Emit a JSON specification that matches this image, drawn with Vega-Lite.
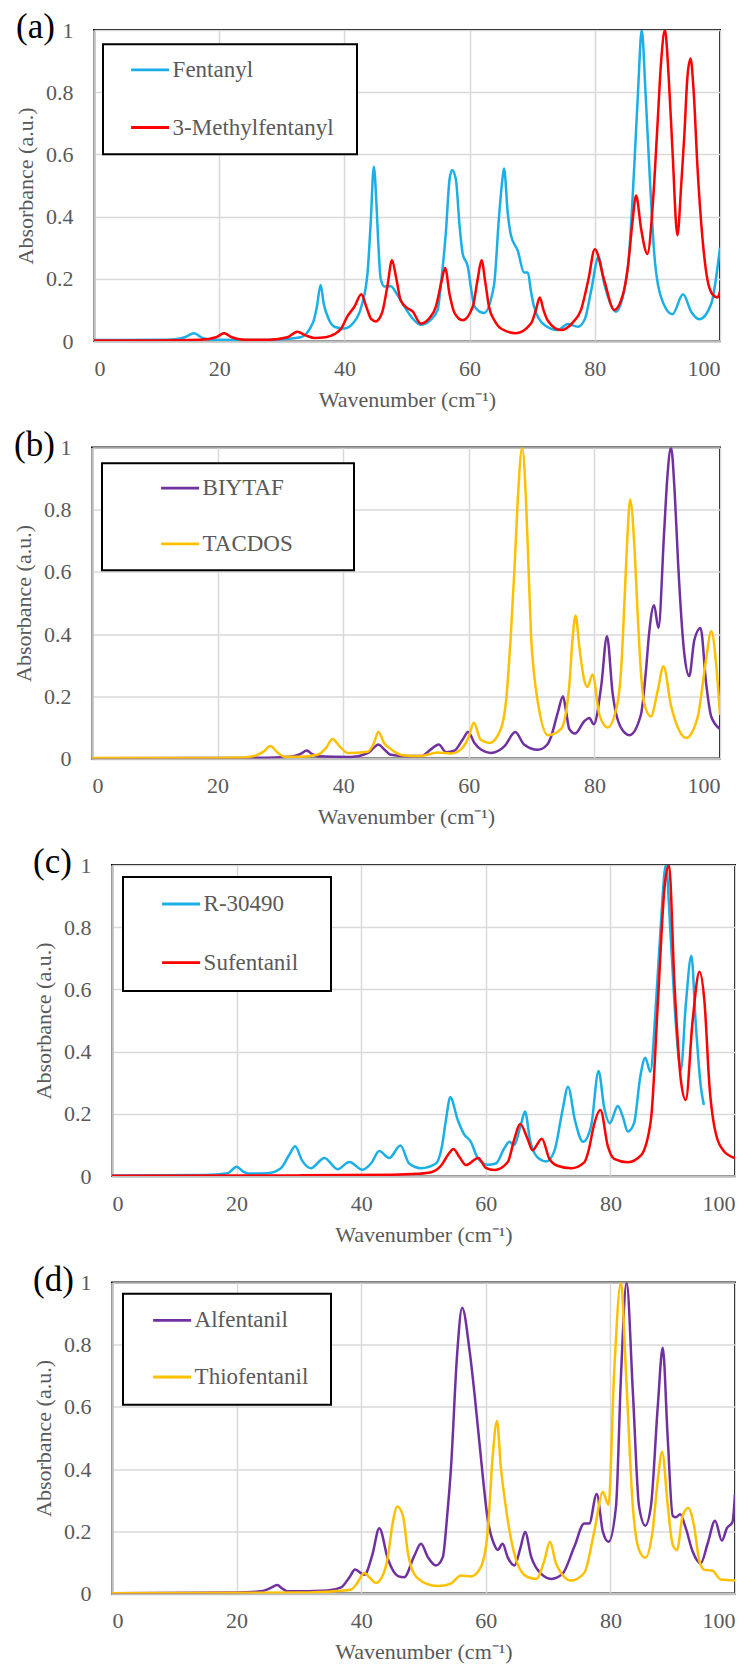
{
  "$schema": "https://vega.github.io/schema/vega-lite/v6.json",
  "background": "white",
  "padding": {"left": 10, "top": 9, "right": 0, "bottom": 0},
  "config": {
    "font": "Liberation Serif",
    "style": {
      "guide-label": {"font": "Liberation Serif"},
      "guide-title": {"font": "Liberation Serif"},
      "group-title": {"font": "Liberation Serif"}
    },
    "view": {"stroke": "#000000", "strokeWidth": 2},
    "axis": {
      "labelFont": "Liberation Serif", "labelFontSize": 22, "labelColor": "#595959",
      "titleFont": "Liberation Serif", "titleFontSize": 22, "titleColor": "#595959", "titleFontWeight": "normal",
      "domainColor": "#BFBFBF", "domainWidth": 2.5, "ticks": false, "tickSize": 0,
      "gridColor": "#D9D9D9", "gridWidth": 1.5
    },
    "axisX": {"labelPadding": 17, "titlePadding": 10},
    "axisY": {"labelPadding": 21, "titlePadding": 8},
    "legend": {
      "orient": "none",
      "labelFont": "Liberation Serif", "labelFontSize": 23, "labelColor": "#595959", "labelLimit": 400,
      "symbolType": "M-1.9,0H1.9", "symbolSize": 400, "symbolStrokeWidth": 2.8,
      "strokeColor": "#000000", "strokeWidth": 2, "fillColor": "#FFFFFF",
      "titleOrient": "right", "titleOpacity": 0, "titleFontSize": 1
    },
    "title": {"font": "Liberation Serif", "fontSize": 35, "color": "#000000", "fontWeight": "normal", "anchor": "start", "frame": "group", "orient": "top", "baseline": "middle", "align": "left", "offset": -10}
  },
  "datasets": {
    "a": [
      {"s":"Fentanyl","x":0,"y":0.003},{"s":"Fentanyl","x":10,"y":0.004},{"s":"Fentanyl","x":13,"y":0.006},{"s":"Fentanyl","x":14.5,"y":0.012},{"s":"Fentanyl","x":16.0,"y":0.025},{"s":"Fentanyl","x":17.3,"y":0.01},{"s":"Fentanyl","x":19,"y":0.004},{"s":"Fentanyl","x":25,"y":0.003},{"s":"Fentanyl","x":30,"y":0.006},{"s":"Fentanyl","x":33,"y":0.012},{"s":"Fentanyl","x":35.0,"y":0.06},{"s":"Fentanyl","x":35.6,"y":0.11},{"s":"Fentanyl","x":36.2,"y":0.18},{"s":"Fentanyl","x":36.7,"y":0.12},{"s":"Fentanyl","x":37.5,"y":0.07},{"s":"Fentanyl","x":38.5,"y":0.045},{"s":"Fentanyl","x":40.0,"y":0.04},{"s":"Fentanyl","x":41.5,"y":0.06},{"s":"Fentanyl","x":42.7,"y":0.11},{"s":"Fentanyl","x":43.7,"y":0.22},{"s":"Fentanyl","x":44.2,"y":0.38},{"s":"Fentanyl","x":44.7,"y":0.56},{"s":"Fentanyl","x":45.1,"y":0.45},{"s":"Fentanyl","x":45.4,"y":0.32},{"s":"Fentanyl","x":45.8,"y":0.2},{"s":"Fentanyl","x":46.4,"y":0.175},{"s":"Fentanyl","x":47.4,"y":0.176},{"s":"Fentanyl","x":48.4,"y":0.15},{"s":"Fentanyl","x":49.6,"y":0.11},{"s":"Fentanyl","x":51.0,"y":0.07},{"s":"Fentanyl","x":52.2,"y":0.052},{"s":"Fentanyl","x":53.6,"y":0.065},{"s":"Fentanyl","x":54.9,"y":0.1},{"s":"Fentanyl","x":55.4,"y":0.18},{"s":"Fentanyl","x":56.2,"y":0.347},{"s":"Fentanyl","x":56.8,"y":0.52},{"s":"Fentanyl","x":57.2,"y":0.55},{"s":"Fentanyl","x":57.8,"y":0.52},{"s":"Fentanyl","x":58.4,"y":0.37},{"s":"Fentanyl","x":58.9,"y":0.28},{"s":"Fentanyl","x":59.7,"y":0.24},{"s":"Fentanyl","x":60.3,"y":0.16},{"s":"Fentanyl","x":60.8,"y":0.11},{"s":"Fentanyl","x":62.3,"y":0.09},{"s":"Fentanyl","x":63.9,"y":0.18},{"s":"Fentanyl","x":64.7,"y":0.40},{"s":"Fentanyl","x":65.3,"y":0.53},{"s":"Fentanyl","x":65.5,"y":0.555},{"s":"Fentanyl","x":66.1,"y":0.41},{"s":"Fentanyl","x":66.6,"y":0.34},{"s":"Fentanyl","x":67.7,"y":0.29},{"s":"Fentanyl","x":68.7,"y":0.22},{"s":"Fentanyl","x":69.3,"y":0.22},{"s":"Fentanyl","x":69.8,"y":0.16},{"s":"Fentanyl","x":70.3,"y":0.11},{"s":"Fentanyl","x":71.9,"y":0.052},{"s":"Fentanyl","x":74.1,"y":0.035},{"s":"Fentanyl","x":75.7,"y":0.055},{"s":"Fentanyl","x":77.3,"y":0.046},{"s":"Fentanyl","x":78.4,"y":0.07},{"s":"Fentanyl","x":79.4,"y":0.16},{"s":"Fentanyl","x":80.6,"y":0.27},{"s":"Fentanyl","x":81.5,"y":0.185},{"s":"Fentanyl","x":83.4,"y":0.094},{"s":"Fentanyl","x":85.3,"y":0.24},{"s":"Fentanyl","x":86.3,"y":0.56},{"s":"Fentanyl","x":86.9,"y":0.8},{"s":"Fentanyl","x":87.5,"y":1.0},{"s":"Fentanyl","x":88.1,"y":0.8},{"s":"Fentanyl","x":88.7,"y":0.56},{"s":"Fentanyl","x":89.5,"y":0.28},{"s":"Fentanyl","x":90.6,"y":0.14},{"s":"Fentanyl","x":92.4,"y":0.086},{"s":"Fentanyl","x":94.1,"y":0.15},{"s":"Fentanyl","x":95.4,"y":0.094},{"s":"Fentanyl","x":96.7,"y":0.07},{"s":"Fentanyl","x":98.6,"y":0.12},{"s":"Fentanyl","x":100,"y":0.30},
      {"s":"3-Methylfentanyl","x":0,"y":0.002},{"s":"3-Methylfentanyl","x":10,"y":0.002},{"s":"3-Methylfentanyl","x":17,"y":0.004},{"s":"3-Methylfentanyl","x":19.5,"y":0.012},{"s":"3-Methylfentanyl","x":20.8,"y":0.025},{"s":"3-Methylfentanyl","x":22.0,"y":0.012},{"s":"3-Methylfentanyl","x":24,"y":0.004},{"s":"3-Methylfentanyl","x":28,"y":0.004},{"s":"3-Methylfentanyl","x":30.9,"y":0.012},{"s":"3-Methylfentanyl","x":32.5,"y":0.03},{"s":"3-Methylfentanyl","x":33.8,"y":0.018},{"s":"3-Methylfentanyl","x":35.2,"y":0.01},{"s":"3-Methylfentanyl","x":37,"y":0.012},{"s":"3-Methylfentanyl","x":38.4,"y":0.022},{"s":"3-Methylfentanyl","x":39.5,"y":0.04},{"s":"3-Methylfentanyl","x":40.5,"y":0.08},{"s":"3-Methylfentanyl","x":41.6,"y":0.11},{"s":"3-Methylfentanyl","x":42.7,"y":0.15},{"s":"3-Methylfentanyl","x":43.5,"y":0.11},{"s":"3-Methylfentanyl","x":44.3,"y":0.07},{"s":"3-Methylfentanyl","x":45.0,"y":0.063},{"s":"3-Methylfentanyl","x":46.0,"y":0.09},{"s":"3-Methylfentanyl","x":46.9,"y":0.18},{"s":"3-Methylfentanyl","x":47.6,"y":0.26},{"s":"3-Methylfentanyl","x":48.3,"y":0.2},{"s":"3-Methylfentanyl","x":49.0,"y":0.13},{"s":"3-Methylfentanyl","x":50.1,"y":0.105},{"s":"3-Methylfentanyl","x":50.9,"y":0.095},{"s":"3-Methylfentanyl","x":52.2,"y":0.056},{"s":"3-Methylfentanyl","x":53.6,"y":0.074},{"s":"3-Methylfentanyl","x":54.6,"y":0.11},{"s":"3-Methylfentanyl","x":55.5,"y":0.19},{"s":"3-Methylfentanyl","x":56.1,"y":0.235},{"s":"3-Methylfentanyl","x":56.8,"y":0.15},{"s":"3-Methylfentanyl","x":57.6,"y":0.09},{"s":"3-Methylfentanyl","x":58.9,"y":0.067},{"s":"3-Methylfentanyl","x":60.5,"y":0.11},{"s":"3-Methylfentanyl","x":61.3,"y":0.2},{"s":"3-Methylfentanyl","x":61.9,"y":0.26},{"s":"3-Methylfentanyl","x":62.5,"y":0.19},{"s":"3-Methylfentanyl","x":63.1,"y":0.11},{"s":"3-Methylfentanyl","x":64.0,"y":0.065},{"s":"3-Methylfentanyl","x":65.0,"y":0.04},{"s":"3-Methylfentanyl","x":67.4,"y":0.025},{"s":"3-Methylfentanyl","x":69.8,"y":0.056},{"s":"3-Methylfentanyl","x":70.6,"y":0.1},{"s":"3-Methylfentanyl","x":71.2,"y":0.14},{"s":"3-Methylfentanyl","x":71.8,"y":0.1},{"s":"3-Methylfentanyl","x":72.5,"y":0.065},{"s":"3-Methylfentanyl","x":74.6,"y":0.035},{"s":"3-Methylfentanyl","x":76.5,"y":0.06},{"s":"3-Methylfentanyl","x":77.8,"y":0.1},{"s":"3-Methylfentanyl","x":79.0,"y":0.2},{"s":"3-Methylfentanyl","x":80.0,"y":0.295},{"s":"3-Methylfentanyl","x":81.5,"y":0.196},{"s":"3-Methylfentanyl","x":83.1,"y":0.10},{"s":"3-Methylfentanyl","x":84.5,"y":0.15},{"s":"3-Methylfentanyl","x":85.3,"y":0.24},{"s":"3-Methylfentanyl","x":86.0,"y":0.38},{"s":"3-Methylfentanyl","x":86.6,"y":0.468},{"s":"3-Methylfentanyl","x":87.4,"y":0.36},{"s":"3-Methylfentanyl","x":88.4,"y":0.28},{"s":"3-Methylfentanyl","x":89.3,"y":0.45},{"s":"3-Methylfentanyl","x":90.0,"y":0.69},{"s":"3-Methylfentanyl","x":90.6,"y":0.9},{"s":"3-Methylfentanyl","x":91.2,"y":1.0},{"s":"3-Methylfentanyl","x":91.8,"y":0.85},{"s":"3-Methylfentanyl","x":92.4,"y":0.616},{"s":"3-Methylfentanyl","x":93.2,"y":0.34},{"s":"3-Methylfentanyl","x":93.8,"y":0.5},{"s":"3-Methylfentanyl","x":94.3,"y":0.66},{"s":"3-Methylfentanyl","x":94.8,"y":0.85},{"s":"3-Methylfentanyl","x":95.3,"y":0.908},{"s":"3-Methylfentanyl","x":95.8,"y":0.8},{"s":"3-Methylfentanyl","x":96.4,"y":0.56},{"s":"3-Methylfentanyl","x":97.2,"y":0.33},{"s":"3-Methylfentanyl","x":98.0,"y":0.196},{"s":"3-Methylfentanyl","x":98.8,"y":0.15},{"s":"3-Methylfentanyl","x":99.6,"y":0.14},{"s":"3-Methylfentanyl","x":100,"y":0.16}
    ],
    "b": [
      {"s":"BIYTAF","x":0,"y":0.001},{"s":"BIYTAF","x":25,"y":0.002},{"s":"BIYTAF","x":30,"y":0.004},{"s":"BIYTAF","x":32.2,"y":0.008},{"s":"BIYTAF","x":33.3,"y":0.016},{"s":"BIYTAF","x":34.2,"y":0.026},{"s":"BIYTAF","x":35.0,"y":0.015},{"s":"BIYTAF","x":35.9,"y":0.007},{"s":"BIYTAF","x":41.2,"y":0.005},{"s":"BIYTAF","x":43.9,"y":0.017},{"s":"BIYTAF","x":44.9,"y":0.035},{"s":"BIYTAF","x":45.6,"y":0.045},{"s":"BIYTAF","x":46.5,"y":0.03},{"s":"BIYTAF","x":47.6,"y":0.012},{"s":"BIYTAF","x":50,"y":0.008},{"s":"BIYTAF","x":52.4,"y":0.008},{"s":"BIYTAF","x":54.0,"y":0.03},{"s":"BIYTAF","x":55.2,"y":0.045},{"s":"BIYTAF","x":56.4,"y":0.02},{"s":"BIYTAF","x":57.7,"y":0.025},{"s":"BIYTAF","x":59.0,"y":0.06},{"s":"BIYTAF","x":59.9,"y":0.085},{"s":"BIYTAF","x":60.9,"y":0.05},{"s":"BIYTAF","x":62.0,"y":0.028},{"s":"BIYTAF","x":63.5,"y":0.018},{"s":"BIYTAF","x":65.7,"y":0.04},{"s":"BIYTAF","x":67.4,"y":0.085},{"s":"BIYTAF","x":68.8,"y":0.045},{"s":"BIYTAF","x":71.0,"y":0.028},{"s":"BIYTAF","x":72.5,"y":0.045},{"s":"BIYTAF","x":73.1,"y":0.07},{"s":"BIYTAF","x":74.2,"y":0.15},{"s":"BIYTAF","x":75.0,"y":0.2},{"s":"BIYTAF","x":75.5,"y":0.15},{"s":"BIYTAF","x":76.0,"y":0.095},{"s":"BIYTAF","x":76.9,"y":0.08},{"s":"BIYTAF","x":78.4,"y":0.12},{"s":"BIYTAF","x":79.2,"y":0.13},{"s":"BIYTAF","x":79.9,"y":0.11},{"s":"BIYTAF","x":81.1,"y":0.235},{"s":"BIYTAF","x":82.0,"y":0.393},{"s":"BIYTAF","x":82.9,"y":0.21},{"s":"BIYTAF","x":84.2,"y":0.10},{"s":"BIYTAF","x":85.6,"y":0.075},{"s":"BIYTAF","x":87.4,"y":0.14},{"s":"BIYTAF","x":88.2,"y":0.28},{"s":"BIYTAF","x":88.7,"y":0.40},{"s":"BIYTAF","x":89.5,"y":0.493},{"s":"BIYTAF","x":90.2,"y":0.42},{"s":"BIYTAF","x":91.1,"y":0.727},{"s":"BIYTAF","x":91.6,"y":0.9},{"s":"BIYTAF","x":92.2,"y":1.0},{"s":"BIYTAF","x":92.8,"y":0.85},{"s":"BIYTAF","x":93.3,"y":0.64},{"s":"BIYTAF","x":94.3,"y":0.34},{"s":"BIYTAF","x":95.1,"y":0.265},{"s":"BIYTAF","x":95.9,"y":0.38},{"s":"BIYTAF","x":96.9,"y":0.42},{"s":"BIYTAF","x":97.8,"y":0.24},{"s":"BIYTAF","x":98.6,"y":0.135},{"s":"BIYTAF","x":100,"y":0.095},
      {"s":"TACDOS","x":0,"y":0.002},{"s":"TACDOS","x":20,"y":0.002},{"s":"TACDOS","x":24,"y":0.003},{"s":"TACDOS","x":25.8,"y":0.008},{"s":"TACDOS","x":27.3,"y":0.022},{"s":"TACDOS","x":28.4,"y":0.04},{"s":"TACDOS","x":29.5,"y":0.02},{"s":"TACDOS","x":30.6,"y":0.006},{"s":"TACDOS","x":33,"y":0.006},{"s":"TACDOS","x":35.9,"y":0.012},{"s":"TACDOS","x":37.3,"y":0.035},{"s":"TACDOS","x":38.3,"y":0.063},{"s":"TACDOS","x":39.4,"y":0.04},{"s":"TACDOS","x":40.7,"y":0.018},{"s":"TACDOS","x":43.9,"y":0.022},{"s":"TACDOS","x":44.9,"y":0.05},{"s":"TACDOS","x":45.6,"y":0.086},{"s":"TACDOS","x":46.5,"y":0.05},{"s":"TACDOS","x":47.6,"y":0.03},{"s":"TACDOS","x":49.7,"y":0.01},{"s":"TACDOS","x":52.4,"y":0.008},{"s":"TACDOS","x":55.0,"y":0.019},{"s":"TACDOS","x":57.2,"y":0.016},{"s":"TACDOS","x":58.8,"y":0.03},{"s":"TACDOS","x":60.0,"y":0.07},{"s":"TACDOS","x":60.8,"y":0.115},{"s":"TACDOS","x":61.9,"y":0.06},{"s":"TACDOS","x":63.3,"y":0.05},{"s":"TACDOS","x":65.1,"y":0.095},{"s":"TACDOS","x":66.0,"y":0.2},{"s":"TACDOS","x":66.7,"y":0.40},{"s":"TACDOS","x":67.3,"y":0.62},{"s":"TACDOS","x":67.8,"y":0.833},{"s":"TACDOS","x":68.5,"y":1.0},{"s":"TACDOS","x":69.1,"y":0.833},{"s":"TACDOS","x":69.5,"y":0.62},{"s":"TACDOS","x":69.9,"y":0.40},{"s":"TACDOS","x":70.4,"y":0.27},{"s":"TACDOS","x":71.0,"y":0.18},{"s":"TACDOS","x":72.6,"y":0.075},{"s":"TACDOS","x":74.7,"y":0.095},{"s":"TACDOS","x":76.0,"y":0.235},{"s":"TACDOS","x":76.5,"y":0.38},{"s":"TACDOS","x":77.0,"y":0.46},{"s":"TACDOS","x":77.6,"y":0.36},{"s":"TACDOS","x":78.4,"y":0.25},{"s":"TACDOS","x":78.9,"y":0.23},{"s":"TACDOS","x":79.7,"y":0.27},{"s":"TACDOS","x":80.8,"y":0.14},{"s":"TACDOS","x":82.1,"y":0.10},{"s":"TACDOS","x":83.7,"y":0.18},{"s":"TACDOS","x":84.3,"y":0.3},{"s":"TACDOS","x":84.8,"y":0.51},{"s":"TACDOS","x":85.3,"y":0.73},{"s":"TACDOS","x":85.7,"y":0.833},{"s":"TACDOS","x":86.4,"y":0.67},{"s":"TACDOS","x":86.9,"y":0.46},{"s":"TACDOS","x":87.4,"y":0.28},{"s":"TACDOS","x":87.9,"y":0.18},{"s":"TACDOS","x":89.0,"y":0.135},{"s":"TACDOS","x":90.1,"y":0.22},{"s":"TACDOS","x":91.0,"y":0.297},{"s":"TACDOS","x":92.2,"y":0.17},{"s":"TACDOS","x":93.5,"y":0.09},{"s":"TACDOS","x":94.6,"y":0.066},{"s":"TACDOS","x":96.4,"y":0.13},{"s":"TACDOS","x":97.8,"y":0.32},{"s":"TACDOS","x":98.6,"y":0.41},{"s":"TACDOS","x":99.4,"y":0.30},{"s":"TACDOS","x":100,"y":0.14}
    ],
    "c": [
      {"s":"R-30490","x":0,"y":0.002},{"s":"R-30490","x":15,"y":0.003},{"s":"R-30490","x":18.6,"y":0.009},{"s":"R-30490","x":20.0,"y":0.03},{"s":"R-30490","x":21.0,"y":0.015},{"s":"R-30490","x":21.8,"y":0.008},{"s":"R-30490","x":25.0,"y":0.009},{"s":"R-30490","x":27.1,"y":0.025},{"s":"R-30490","x":28.5,"y":0.07},{"s":"R-30490","x":29.4,"y":0.096},{"s":"R-30490","x":30.5,"y":0.05},{"s":"R-30490","x":31.9,"y":0.025},{"s":"R-30490","x":34.1,"y":0.058},{"s":"R-30490","x":36.2,"y":0.022},{"s":"R-30490","x":38.1,"y":0.045},{"s":"R-30490","x":40.2,"y":0.02},{"s":"R-30490","x":41.6,"y":0.041},{"s":"R-30490","x":42.9,"y":0.08},{"s":"R-30490","x":44.5,"y":0.058},{"s":"R-30490","x":46.3,"y":0.098},{"s":"R-30490","x":47.7,"y":0.04},{"s":"R-30490","x":49.6,"y":0.025},{"s":"R-30490","x":52.0,"y":0.04},{"s":"R-30490","x":53.0,"y":0.1},{"s":"R-30490","x":53.6,"y":0.18},{"s":"R-30490","x":54.3,"y":0.253},{"s":"R-30490","x":55.5,"y":0.18},{"s":"R-30490","x":56.5,"y":0.135},{"s":"R-30490","x":57.6,"y":0.11},{"s":"R-30490","x":58.7,"y":0.058},{"s":"R-30490","x":60.3,"y":0.036},{"s":"R-30490","x":61.6,"y":0.04},{"s":"R-30490","x":63.0,"y":0.09},{"s":"R-30490","x":63.8,"y":0.11},{"s":"R-30490","x":64.5,"y":0.1},{"s":"R-30490","x":65.7,"y":0.17},{"s":"R-30490","x":66.3,"y":0.207},{"s":"R-30490","x":67.1,"y":0.115},{"s":"R-30490","x":68.3,"y":0.06},{"s":"R-30490","x":69.7,"y":0.047},{"s":"R-30490","x":71.0,"y":0.08},{"s":"R-30490","x":72.3,"y":0.21},{"s":"R-30490","x":73.2,"y":0.287},{"s":"R-30490","x":74.3,"y":0.18},{"s":"R-30490","x":75.6,"y":0.11},{"s":"R-30490","x":76.9,"y":0.16},{"s":"R-30490","x":78.1,"y":0.338},{"s":"R-30490","x":79.0,"y":0.22},{"s":"R-30490","x":79.9,"y":0.17},{"s":"R-30490","x":81.2,"y":0.225},{"s":"R-30490","x":82.0,"y":0.19},{"s":"R-30490","x":82.8,"y":0.143},{"s":"R-30490","x":83.8,"y":0.17},{"s":"R-30490","x":84.8,"y":0.32},{"s":"R-30490","x":85.6,"y":0.38},{"s":"R-30490","x":86.4,"y":0.335},{"s":"R-30490","x":87.3,"y":0.55},{"s":"R-30490","x":88.1,"y":0.81},{"s":"R-30490","x":88.9,"y":1.0},{"s":"R-30490","x":89.7,"y":0.76},{"s":"R-30490","x":90.5,"y":0.49},{"s":"R-30490","x":91.3,"y":0.34},{"s":"R-30490","x":92.1,"y":0.55},{"s":"R-30490","x":93.0,"y":0.708},{"s":"R-30490","x":93.7,"y":0.49},{"s":"R-30490","x":94.5,"y":0.29},{"s":"R-30490","x":95.0,"y":0.228},
      {"s":"Sufentanil","x":0,"y":0.001},{"s":"Sufentanil","x":30,"y":0.002},{"s":"Sufentanil","x":45,"y":0.004},{"s":"Sufentanil","x":49,"y":0.007},{"s":"Sufentanil","x":51.2,"y":0.012},{"s":"Sufentanil","x":52.8,"y":0.033},{"s":"Sufentanil","x":54.0,"y":0.07},{"s":"Sufentanil","x":54.8,"y":0.087},{"s":"Sufentanil","x":55.8,"y":0.06},{"s":"Sufentanil","x":56.8,"y":0.035},{"s":"Sufentanil","x":58.8,"y":0.058},{"s":"Sufentanil","x":60.0,"y":0.026},{"s":"Sufentanil","x":61.4,"y":0.019},{"s":"Sufentanil","x":63.5,"y":0.044},{"s":"Sufentanil","x":64.6,"y":0.12},{"s":"Sufentanil","x":65.5,"y":0.167},{"s":"Sufentanil","x":66.7,"y":0.12},{"s":"Sufentanil","x":67.5,"y":0.083},{"s":"Sufentanil","x":69.0,"y":0.12},{"s":"Sufentanil","x":70.2,"y":0.055},{"s":"Sufentanil","x":71.5,"y":0.033},{"s":"Sufentanil","x":73.7,"y":0.025},{"s":"Sufentanil","x":75.8,"y":0.044},{"s":"Sufentanil","x":76.6,"y":0.09},{"s":"Sufentanil","x":77.2,"y":0.15},{"s":"Sufentanil","x":78.4,"y":0.212},{"s":"Sufentanil","x":79.6,"y":0.095},{"s":"Sufentanil","x":80.6,"y":0.055},{"s":"Sufentanil","x":82.8,"y":0.044},{"s":"Sufentanil","x":84.9,"y":0.066},{"s":"Sufentanil","x":86.5,"y":0.18},{"s":"Sufentanil","x":87.6,"y":0.55},{"s":"Sufentanil","x":88.7,"y":0.93},{"s":"Sufentanil","x":89.4,"y":1.0},{"s":"Sufentanil","x":90.3,"y":0.61},{"s":"Sufentanil","x":91.3,"y":0.31},{"s":"Sufentanil","x":92.1,"y":0.244},{"s":"Sufentanil","x":93.2,"y":0.5},{"s":"Sufentanil","x":94.3,"y":0.657},{"s":"Sufentanil","x":95.1,"y":0.56},{"s":"Sufentanil","x":95.9,"y":0.29},{"s":"Sufentanil","x":97.0,"y":0.13},{"s":"Sufentanil","x":98.3,"y":0.078},{"s":"Sufentanil","x":100,"y":0.058}
    ],
    "d": [
      {"s":"Alfentanil","x":0,"y":0.001},{"s":"Alfentanil","x":20,"y":0.003},{"s":"Alfentanil","x":23.9,"y":0.007},{"s":"Alfentanil","x":25.5,"y":0.018},{"s":"Alfentanil","x":26.5,"y":0.027},{"s":"Alfentanil","x":27.4,"y":0.015},{"s":"Alfentanil","x":28.2,"y":0.007},{"s":"Alfentanil","x":34.6,"y":0.01},{"s":"Alfentanil","x":36.8,"y":0.02},{"s":"Alfentanil","x":38.2,"y":0.055},{"s":"Alfentanil","x":39.0,"y":0.077},{"s":"Alfentanil","x":40.5,"y":0.06},{"s":"Alfentanil","x":41.8,"y":0.125},{"s":"Alfentanil","x":42.9,"y":0.21},{"s":"Alfentanil","x":44.3,"y":0.11},{"s":"Alfentanil","x":45.9,"y":0.056},{"s":"Alfentanil","x":46.9,"y":0.052},{"s":"Alfentanil","x":48.5,"y":0.12},{"s":"Alfentanil","x":49.6,"y":0.16},{"s":"Alfentanil","x":50.7,"y":0.117},{"s":"Alfentanil","x":52.0,"y":0.09},{"s":"Alfentanil","x":53.1,"y":0.117},{"s":"Alfentanil","x":53.8,"y":0.25},{"s":"Alfentanil","x":54.4,"y":0.40},{"s":"Alfentanil","x":55.4,"y":0.77},{"s":"Alfentanil","x":56.2,"y":0.919},{"s":"Alfentanil","x":57.4,"y":0.78},{"s":"Alfentanil","x":58.2,"y":0.64},{"s":"Alfentanil","x":59.2,"y":0.44},{"s":"Alfentanil","x":60.3,"y":0.24},{"s":"Alfentanil","x":61.4,"y":0.155},{"s":"Alfentanil","x":61.9,"y":0.14},{"s":"Alfentanil","x":62.7,"y":0.16},{"s":"Alfentanil","x":63.5,"y":0.117},{"s":"Alfentanil","x":64.6,"y":0.09},{"s":"Alfentanil","x":65.6,"y":0.15},{"s":"Alfentanil","x":66.3,"y":0.198},{"s":"Alfentanil","x":67.3,"y":0.117},{"s":"Alfentanil","x":68.9,"y":0.063},{"s":"Alfentanil","x":70.5,"y":0.047},{"s":"Alfentanil","x":72.3,"y":0.063},{"s":"Alfentanil","x":74.2,"y":0.15},{"s":"Alfentanil","x":75.8,"y":0.225},{"s":"Alfentanil","x":76.6,"y":0.225},{"s":"Alfentanil","x":77.8,"y":0.32},{"s":"Alfentanil","x":78.8,"y":0.198},{"s":"Alfentanil","x":79.7,"y":0.166},{"s":"Alfentanil","x":80.9,"y":0.28},{"s":"Alfentanil","x":81.7,"y":0.70},{"s":"Alfentanil","x":82.6,"y":1.0},{"s":"Alfentanil","x":83.6,"y":0.65},{"s":"Alfentanil","x":84.6,"y":0.28},{"s":"Alfentanil","x":85.6,"y":0.218},{"s":"Alfentanil","x":86.5,"y":0.28},{"s":"Alfentanil","x":87.6,"y":0.60},{"s":"Alfentanil","x":88.4,"y":0.79},{"s":"Alfentanil","x":89.2,"y":0.5},{"s":"Alfentanil","x":90.0,"y":0.25},{"s":"Alfentanil","x":90.5,"y":0.245},{"s":"Alfentanil","x":91.2,"y":0.255},{"s":"Alfentanil","x":92.1,"y":0.21},{"s":"Alfentanil","x":93.2,"y":0.135},{"s":"Alfentanil","x":94.5,"y":0.097},{"s":"Alfentanil","x":95.6,"y":0.16},{"s":"Alfentanil","x":96.8,"y":0.234},{"s":"Alfentanil","x":97.9,"y":0.17},{"s":"Alfentanil","x":98.7,"y":0.21},{"s":"Alfentanil","x":99.6,"y":0.23},{"s":"Alfentanil","x":100,"y":0.32},
      {"s":"Thiofentanil","x":0,"y":0.001},{"s":"Thiofentanil","x":30,"y":0.003},{"s":"Thiofentanil","x":36,"y":0.008},{"s":"Thiofentanil","x":38.4,"y":0.013},{"s":"Thiofentanil","x":39.4,"y":0.035},{"s":"Thiofentanil","x":40.5,"y":0.066},{"s":"Thiofentanil","x":41.4,"y":0.05},{"s":"Thiofentanil","x":42.4,"y":0.034},{"s":"Thiofentanil","x":43.5,"y":0.06},{"s":"Thiofentanil","x":44.3,"y":0.12},{"s":"Thiofentanil","x":45.0,"y":0.22},{"s":"Thiofentanil","x":45.8,"y":0.28},{"s":"Thiofentanil","x":46.7,"y":0.25},{"s":"Thiofentanil","x":47.5,"y":0.13},{"s":"Thiofentanil","x":48.5,"y":0.063},{"s":"Thiofentanil","x":50.4,"y":0.032},{"s":"Thiofentanil","x":52.3,"y":0.024},{"s":"Thiofentanil","x":54.4,"y":0.032},{"s":"Thiofentanil","x":56.0,"y":0.058},{"s":"Thiofentanil","x":57.6,"y":0.055},{"s":"Thiofentanil","x":59.2,"y":0.085},{"s":"Thiofentanil","x":60.3,"y":0.198},{"s":"Thiofentanil","x":61.1,"y":0.44},{"s":"Thiofentanil","x":61.8,"y":0.555},{"s":"Thiofentanil","x":62.4,"y":0.41},{"s":"Thiofentanil","x":63.2,"y":0.28},{"s":"Thiofentanil","x":64.0,"y":0.18},{"s":"Thiofentanil","x":65.1,"y":0.095},{"s":"Thiofentanil","x":66.7,"y":0.053},{"s":"Thiofentanil","x":68.1,"y":0.047},{"s":"Thiofentanil","x":69.4,"y":0.106},{"s":"Thiofentanil","x":70.3,"y":0.166},{"s":"Thiofentanil","x":71.3,"y":0.095},{"s":"Thiofentanil","x":73.7,"y":0.042},{"s":"Thiofentanil","x":75.8,"y":0.066},{"s":"Thiofentanil","x":77.4,"y":0.198},{"s":"Thiofentanil","x":78.8,"y":0.326},{"s":"Thiofentanil","x":79.7,"y":0.285},{"s":"Thiofentanil","x":80.6,"y":0.71},{"s":"Thiofentanil","x":81.7,"y":1.0},{"s":"Thiofentanil","x":82.5,"y":0.71},{"s":"Thiofentanil","x":83.6,"y":0.28},{"s":"Thiofentanil","x":84.6,"y":0.14},{"s":"Thiofentanil","x":85.6,"y":0.115},{"s":"Thiofentanil","x":86.8,"y":0.205},{"s":"Thiofentanil","x":87.6,"y":0.365},{"s":"Thiofentanil","x":88.3,"y":0.456},{"s":"Thiofentanil","x":89.2,"y":0.285},{"s":"Thiofentanil","x":90.0,"y":0.157},{"s":"Thiofentanil","x":90.7,"y":0.14},{"s":"Thiofentanil","x":91.6,"y":0.25},{"s":"Thiofentanil","x":92.5,"y":0.275},{"s":"Thiofentanil","x":93.4,"y":0.22},{"s":"Thiofentanil","x":94.3,"y":0.103},{"s":"Thiofentanil","x":95.1,"y":0.076},{"s":"Thiofentanil","x":96.4,"y":0.073},{"s":"Thiofentanil","x":97.7,"y":0.045},{"s":"Thiofentanil","x":100,"y":0.042}
    ]
  },
  "columns": 1,
  "spacing": 15.5,
  "resolve": {"scale": {"color": "independent"}},
  "concat": [
    {
      "hconcat": [
        {"width": 3, "height": 10, "data": {"values": []}, "mark": "point", "view": {"stroke": null}},
        {
          "width": 626, "height": 311,
          "data": {"name": "a"},
          "title": {"text": "(a)", "dx": -78, "dy": 16},
          "mark": {"type": "line", "interpolate": "monotone", "strokeWidth": 2.5, "clip": true},
          "encoding": {
            "x": {"field": "x", "type": "quantitative", "scale": {"domain": [0, 100], "nice": false}, "axis": {"title": "Wavenumber (cm⁻¹)", "values": [0, 20, 40, 60, 80, 100], "labelFont": "Liberation Serif", "titleFont": "Liberation Serif"}},
            "y": {"field": "y", "type": "quantitative", "scale": {"domain": [0, 1], "nice": false}, "axis": {"title": "Absorbance (a.u.)", "values": [0, 0.2, 0.4, 0.6, 0.8, 1], "format": ".1~f", "labelFont": "Liberation Serif", "titleFont": "Liberation Serif"}},
            "color": {"field": "s", "type": "nominal", "scale": {"domain": ["Fentanyl", "3-Methylfentanyl"], "range": ["#1AAFE6", "#FF0000"]},
              "legend": {"title": ".", "labelFont": "Liberation Serif", "legendX": 9, "legendY": 14.3, "padding": 14, "rowPadding": 33.7, "symbolOffset": 21.6, "labelOffset": 11, "titlePadding": 8.5}}
          }
        }
      ],
      "spacing": 0,
      "resolve": {"scale": {"color": "independent"}}
    },
    {
      "hconcat": [
        {"width": 1, "height": 10, "data": {"values": []}, "mark": "point", "view": {"stroke": null}},
        {
          "width": 628, "height": 311,
          "data": {"name": "b"},
          "title": {"text": "(b)", "dx": -78, "dy": 16},
          "mark": {"type": "line", "interpolate": "monotone", "strokeWidth": 2.5, "clip": true},
          "encoding": {
            "x": {"field": "x", "type": "quantitative", "scale": {"domain": [0, 100], "nice": false}, "axis": {"title": "Wavenumber (cm⁻¹)", "values": [0, 20, 40, 60, 80, 100], "labelFont": "Liberation Serif", "titleFont": "Liberation Serif"}},
            "y": {"field": "y", "type": "quantitative", "scale": {"domain": [0, 1], "nice": false}, "axis": {"title": "Absorbance (a.u.)", "values": [0, 0.2, 0.4, 0.6, 0.8, 1], "format": ".1~f", "labelFont": "Liberation Serif", "titleFont": "Liberation Serif"}},
            "color": {"field": "s", "type": "nominal", "scale": {"domain": ["BIYTAF", "TACDOS"], "range": ["#7030A0", "#FFC000"]},
              "legend": {"title": ".", "labelFont": "Liberation Serif", "legendX": 10, "legendY": 15.7, "padding": 13.5, "rowPadding": 31.7, "symbolOffset": 53.1, "labelOffset": 11, "titlePadding": 47.5}}
          }
        }
      ],
      "spacing": 0,
      "resolve": {"scale": {"color": "independent"}}
    },
    {
      "hconcat": [
        {"width": 21, "height": 10, "data": {"values": []}, "mark": "point", "view": {"stroke": null}},
        {
          "width": 623, "height": 311,
          "data": {"name": "c"},
          "title": {"text": "(c)", "dx": -79, "dy": 16},
          "mark": {"type": "line", "interpolate": "monotone", "strokeWidth": 2.5, "clip": true},
          "encoding": {
            "x": {"field": "x", "type": "quantitative", "scale": {"domain": [0, 100], "nice": false}, "axis": {"title": "Wavenumber (cm⁻¹)", "values": [0, 20, 40, 60, 80, 100], "labelFont": "Liberation Serif", "titleFont": "Liberation Serif"}},
            "y": {"field": "y", "type": "quantitative", "scale": {"domain": [0, 1], "nice": false}, "axis": {"title": "Absorbance (a.u.)", "values": [0, 0.2, 0.4, 0.6, 0.8, 1], "format": ".1~f", "labelFont": "Liberation Serif", "titleFont": "Liberation Serif"}},
            "color": {"field": "s", "type": "nominal", "scale": {"domain": ["R-30490", "Sufentanil"], "range": ["#1AAFE6", "#FF0000"]},
              "legend": {"title": ".", "labelFont": "Liberation Serif", "legendX": 11, "legendY": 12, "padding": 15.5, "rowPadding": 34.7, "symbolOffset": 31.1, "labelOffset": 11, "titlePadding": 16.5}}
          }
        }
      ],
      "spacing": 0,
      "resolve": {"scale": {"color": "independent"}}
    },
    {
      "hconcat": [
        {"width": 21, "height": 10, "data": {"values": []}, "mark": "point", "view": {"stroke": null}},
        {
          "width": 623, "height": 311,
          "data": {"name": "d"},
          "title": {"text": "(d)", "dx": -79, "dy": 16},
          "mark": {"type": "line", "interpolate": "monotone", "strokeWidth": 2.5, "clip": true},
          "encoding": {
            "x": {"field": "x", "type": "quantitative", "scale": {"domain": [0, 100], "nice": false}, "axis": {"title": "Wavenumber (cm⁻¹)", "values": [0, 20, 40, 60, 80, 100], "labelFont": "Liberation Serif", "titleFont": "Liberation Serif"}},
            "y": {"field": "y", "type": "quantitative", "scale": {"domain": [0, 1], "nice": false}, "axis": {"title": "Absorbance (a.u.)", "values": [0, 0.2, 0.4, 0.6, 0.8, 1], "format": ".1~f", "labelFont": "Liberation Serif", "titleFont": "Liberation Serif"}},
            "color": {"field": "s", "type": "nominal", "scale": {"domain": ["Alfentanil", "Thiofentanil"], "range": ["#7030A0", "#FFC000"]},
              "legend": {"title": ".", "labelFont": "Liberation Serif", "legendX": 11, "legendY": 11.3, "padding": 15, "rowPadding": 32.7, "symbolOffset": 22.6, "labelOffset": 11, "titlePadding": 7.4}}
          }
        }
      ],
      "spacing": 0,
      "resolve": {"scale": {"color": "independent"}}
    }
  ]
}
